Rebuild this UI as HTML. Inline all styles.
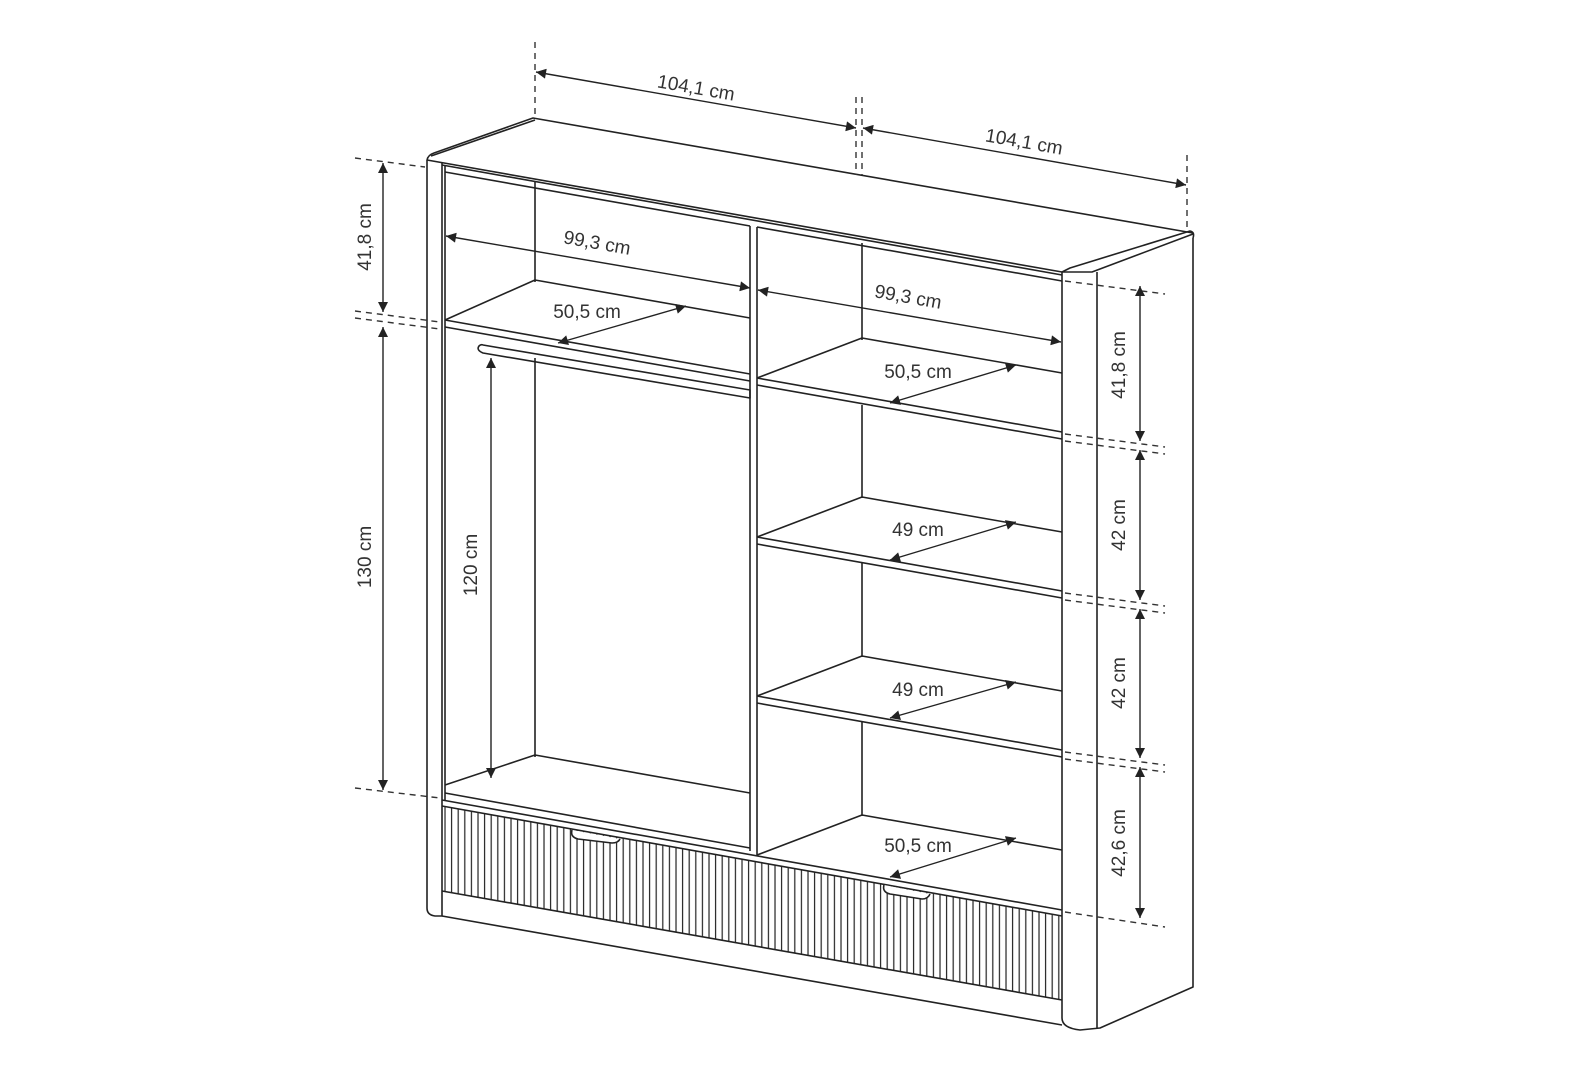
<!DOCTYPE html>
<html><head><meta charset="utf-8"><style>
html,body{margin:0;padding:0;background:#fff;}
svg{display:block}
text{font-family:"Liberation Sans",sans-serif;font-size:19px;fill:#333;}
</style></head><body>
<svg width="1577" height="1080" viewBox="0 0 1577 1080" xmlns="http://www.w3.org/2000/svg">
<defs>
<pattern id="slat" x="444" y="0" width="6.6" height="10" patternUnits="userSpaceOnUse">
<line x1="1" y1="0" x2="1" y2="10" stroke="#222" stroke-width="1.2"/>
</pattern>
<marker id="a" viewBox="0 0 10 10" refX="10" refY="5" markerWidth="14" markerHeight="10" markerUnits="userSpaceOnUse" orient="auto-start-reverse">
<path d="M0,0 L10,5 L0,10 z" fill="#222"/></marker>
</defs>
<g fill="none" stroke="#222" stroke-width="1.6" stroke-linejoin="round">
<path d="M427,160 Q428,155 434,153 L533,118 L1193,233"/>
<path d="M431,156 L535,120"/>
<path d="M1062,272 L1070,268 L1190,231 Q1195,232 1193,238"/>
<path d="M1062,272 L1092,272 L1193,234"/>
<path d="M427,160 L427,908 Q427,915 435,916 L442,916 L442,163"/>
<line x1="445" y1="165" x2="445" y2="800"/>
<line x1="427" y1="160" x2="1062" y2="272"/>
<line x1="442" y1="165" x2="1062" y2="275"/>
<line x1="445" y1="172" x2="750" y2="226"/>
<line x1="757" y1="227" x2="1062" y2="281"/>
<line x1="535" y1="182" x2="535" y2="282"/>
<line x1="535" y1="358" x2="535" y2="757"/>
<line x1="862" y1="243" x2="862" y2="340"/>
<line x1="862" y1="405" x2="862" y2="498"/>
<line x1="862" y1="563" x2="862" y2="657"/>
<line x1="862" y1="722" x2="862" y2="816"/>
<line x1="750" y1="226" x2="750" y2="851"/>
<line x1="757" y1="227" x2="757" y2="855"/>
<path d="M1062,272 L1062,1018 Q1062,1028 1080,1030 L1100,1028 L1193,987 L1193,238"/>
<line x1="1097" y1="272" x2="1097" y2="1028"/>
<path d="M445,320 L535,280 L750,318"/>
<line x1="445" y1="320" x2="750" y2="374"/>
<line x1="445" y1="327" x2="750" y2="381"/>
<path d="M483,345 L750,390 L750,398 L483,353 Q476,350 479,346 Q481,344 483,345"/>
<path d="M445,785 L535,755 L750,793"/>
<line x1="445" y1="793" x2="750" y2="848"/>
<path d="M757,378 L862,338 L1062,373"/>
<line x1="757" y1="378" x2="1062" y2="432"/>
<line x1="757" y1="385" x2="1062" y2="439"/>
<path d="M757,537 L862,497 L1062,532"/>
<line x1="757" y1="537" x2="1062" y2="591"/>
<line x1="757" y1="544" x2="1062" y2="598"/>
<path d="M757,696 L862,656 L1062,691"/>
<line x1="757" y1="696" x2="1062" y2="750"/>
<line x1="757" y1="703" x2="1062" y2="757"/>
<path d="M757,855 L862,815 L1062,850"/>
<polygon points="442,806 1062,916 1062,1000 442,891" fill="url(#slat)" stroke="none"/>
<line x1="442" y1="800" x2="1062" y2="910"/>
<line x1="442" y1="806" x2="1062" y2="916"/>
<line x1="442" y1="891" x2="1062" y2="1000"/>
<line x1="442" y1="916" x2="1062" y2="1025"/>
<path d="M572,830 Q570,837 578,839 L612,843 Q618,843 620,839" fill="#fff"/>
<path d="M884,885 Q882,892 890,894 L922,899 Q928,899 930,894" fill="#fff"/>
</g>
<g stroke="#333" stroke-width="1.4" stroke-dasharray="6,5" fill="none">
<line x1="535" y1="42" x2="535" y2="118"/>
<line x1="856" y1="97" x2="856" y2="175"/>
<line x1="862" y1="97" x2="862" y2="175"/>
<line x1="1187" y1="155" x2="1187" y2="230"/>
<line x1="355" y1="158" x2="425" y2="167"/>
<line x1="355" y1="311" x2="440" y2="322"/>
<line x1="355" y1="318" x2="440" y2="329"/>
<line x1="355" y1="788" x2="440" y2="798"/>
<line x1="1065" y1="281" x2="1165" y2="294"/>
<line x1="1065" y1="434" x2="1165" y2="447"/>
<line x1="1065" y1="441" x2="1165" y2="454"/>
<line x1="1065" y1="593" x2="1165" y2="606"/>
<line x1="1065" y1="600" x2="1165" y2="613"/>
<line x1="1065" y1="752" x2="1165" y2="765"/>
<line x1="1065" y1="759" x2="1165" y2="772"/>
<line x1="1065" y1="912" x2="1165" y2="927"/>
</g>
<g stroke="#222" stroke-width="1.4" marker-start="url(#a)" marker-end="url(#a)">
<line x1="536" y1="72" x2="856" y2="128"/>
<line x1="863" y1="128" x2="1186" y2="185"/>
<line x1="383" y1="163" x2="383" y2="312"/>
<line x1="383" y1="327" x2="383" y2="790"/>
<line x1="491" y1="358" x2="491" y2="778"/>
<line x1="446" y1="236" x2="750" y2="288"/>
<line x1="558" y1="343" x2="686" y2="306"/>
<line x1="758" y1="290" x2="1061" y2="342"/>
<line x1="890" y1="403" x2="1016" y2="365"/>
<line x1="890" y1="560" x2="1016" y2="522"/>
<line x1="890" y1="718" x2="1016" y2="682"/>
<line x1="890" y1="877" x2="1016" y2="838"/>
<line x1="1140" y1="286" x2="1140" y2="441"/>
<line x1="1140" y1="450" x2="1140" y2="600"/>
<line x1="1140" y1="609" x2="1140" y2="758"/>
<line x1="1140" y1="767" x2="1140" y2="918"/>
</g>
<text transform="translate(695,94) rotate(10)" text-anchor="middle">104,1 cm</text>
<text transform="translate(1023,148) rotate(10)" text-anchor="middle">104,1 cm</text>
<text transform="translate(596,249) rotate(10)" text-anchor="middle">99,3 cm</text>
<text transform="translate(907,303) rotate(10)" text-anchor="middle">99,3 cm</text>
<text x="587" y="318" text-anchor="middle">50,5 cm</text>
<text x="918" y="378" text-anchor="middle">50,5 cm</text>
<text x="918" y="536" text-anchor="middle">49 cm</text>
<text x="918" y="696" text-anchor="middle">49 cm</text>
<text x="918" y="852" text-anchor="middle">50,5 cm</text>
<text transform="translate(371,237) rotate(-90)" text-anchor="middle">41,8 cm</text>
<text transform="translate(371,557) rotate(-90)" text-anchor="middle">130 cm</text>
<text transform="translate(477,565) rotate(-90)" text-anchor="middle">120 cm</text>
<text transform="translate(1125,365) rotate(-90)" text-anchor="middle">41,8 cm</text>
<text transform="translate(1125,525) rotate(-90)" text-anchor="middle">42 cm</text>
<text transform="translate(1125,683) rotate(-90)" text-anchor="middle">42 cm</text>
<text transform="translate(1125,843) rotate(-90)" text-anchor="middle">42,6 cm</text>
</svg>
</body></html>
